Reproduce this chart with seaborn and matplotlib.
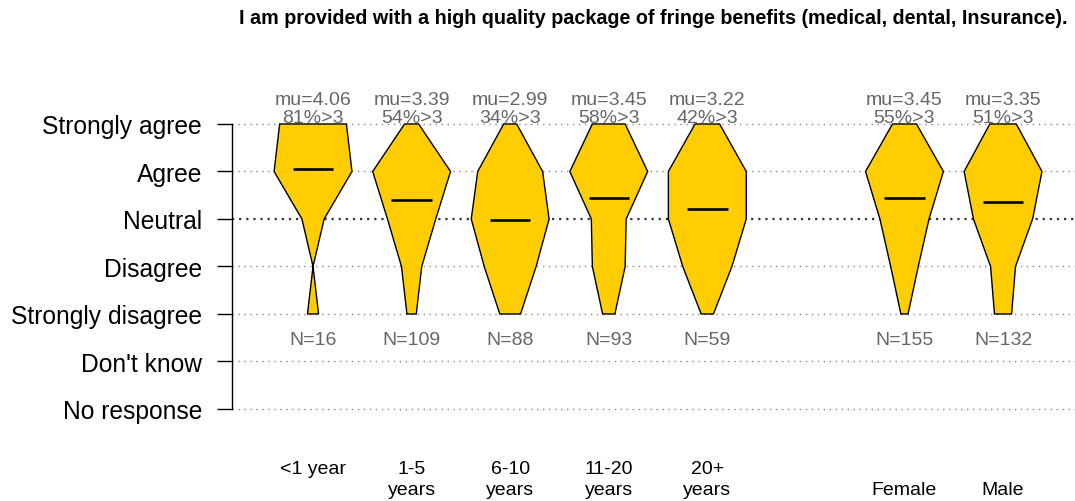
import numpy as np
import matplotlib
matplotlib.use("Agg")
import matplotlib.pyplot as plt
import seaborn as sns

# ---------------- data ----------------
title = "I am provided with a high quality package of fringe benefits (medical, dental, Insurance)."
group_labels = ["<1 year", "1-5\nyears", "6-10\nyears", "11-20\nyears", "20+\nyears", "\nFemale", "\nMale"]
group_pos = [1, 2, 3, 4, 5, 7, 8]
level_labels = ["Strongly agree", "Agree", "Neutral", "Disagree", "Strongly disagree", "Don't know", "No response"]
level_values = [5, 4, 3, 2, 1, 0, -1]
likert_levels = [5, 4, 3, 2, 1]
# response counts per group
strongly_agree = [6, 9, 5, 16, 6, 20, 17]
agree = [7, 50, 25, 38, 19, 65, 50]
neutral = [2, 31, 30, 17, 19, 41, 38]
disagree = [0, 13, 20, 16, 12, 23, 16]
strongly_disagree = [1, 6, 8, 6, 3, 6, 11]

# ---------------- style ----------------
sns.set_theme(style="white")
plt.rcParams["font.family"] = ["Liberation Sans", "DejaVu Sans"]

W, H = 1075, 502
fig = plt.figure(figsize=(W / 100, H / 100), dpi=100)
ax = fig.add_axes([232 / W, 62 / H, (W - 232) / W, 380 / H])
ax.set_xlim(0.178, 8.73)
ax.set_ylim(-1.632, 6.368)

# grid lines
for v in level_values:
    if v == 3:
        ax.axhline(v, color="#333333", lw=1.6, ls=(0, (1, 2.2)), zorder=0)
    else:
        ax.axhline(v, color="#8a8a8a", lw=1.0, ls=(0, (1, 3.3)), zorder=0)

counts = np.array([strongly_agree, agree, neutral, disagree, strongly_disagree]).T
levels = np.array(likert_levels, dtype=float)
half_max = 0.395
for pos, c in zip(group_pos, counts):
    w = half_max * c / c.max()
    xs = np.concatenate([pos - w, (pos + w)[::-1]])
    ys = np.concatenate([levels, levels[::-1]])
    ax.fill(xs, ys, facecolor="#FFCD00", edgecolor="black", lw=1.0, zorder=2)

n = counts.sum(axis=1)
mu = (counts * levels).sum(axis=1) / n
pct = 100 * counts[:, :2].sum(axis=1) / n

ax.hlines(mu, np.array(group_pos) - 0.205, np.array(group_pos) + 0.205,
          color="black", lw=1.9, zorder=4)

txt_col = "#666666"
for pos, m, p, nn in zip(group_pos, mu, pct, n):
    ax.text(pos, 5.42, f"mu={m:.2f}", ha="center", va="baseline", fontsize=14,
            color=txt_col, zorder=5)
    ax.text(pos, 5.04, f"{p:.0f}%>3", ha="center", va="baseline", fontsize=14,
            color=txt_col, zorder=5)
    ax.text(pos, 0.368, f"N={nn}", ha="center", va="baseline", fontsize=14,
            color=txt_col, zorder=5)

for pos, lab in zip(group_pos, group_labels):
    ax.text(pos, -2.07, lab, ha="center", va="top", fontsize=14,
            color="black", clip_on=False, linespacing=1.34)

ax.set_yticks(level_values)
ax.set_yticklabels(level_labels, fontsize=17.7, color="black")
ax.set_xticks([])
ax.tick_params(axis="y", direction="out", length=10.8, width=1.0, pad=10.8,
               color="black", left=True)
sns.despine(ax=ax, top=True, right=True, bottom=True, left=False)
ax.spines["left"].set_bounds(-1, 5)
ax.spines["left"].set_color("black")
ax.spines["left"].set_linewidth(1.0)
ax.grid(False)

fig.text(653 / W, 1 - 18 / H, title, ha="center", va="center", fontsize=14.2,
         fontweight="bold", color="black")

fig.savefig("out.png", dpi=100, facecolor="white")
